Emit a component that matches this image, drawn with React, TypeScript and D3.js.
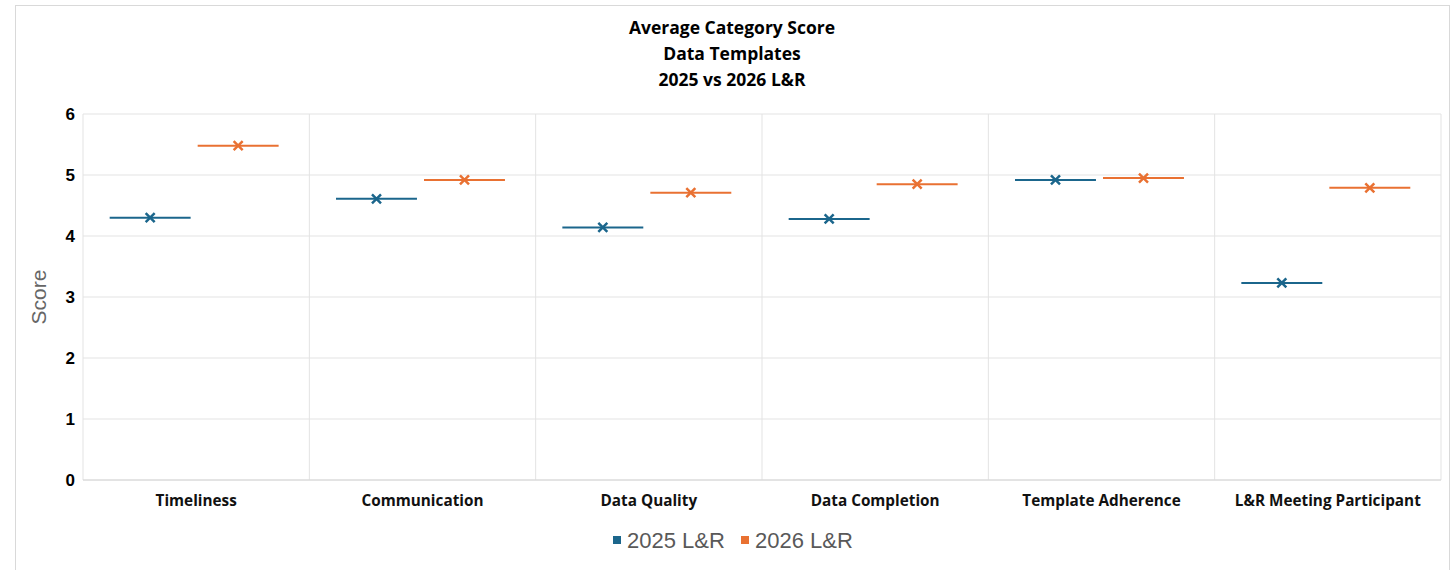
import React from "react";
import * as d3 from "d3";

const categories = [
  "Timeliness",
  "Communication",
  "Data Quality",
  "Data Completion",
  "Template Adherence",
  "L&R Meeting Participant",
];
const seriesNames = ["2025 L&R", "2026 L&R"];
const scores2025 = [4.3, 4.61, 4.14, 4.28, 4.92, 3.23];
const scores2026 = [5.48, 4.92, 4.71, 4.85, 4.95, 4.79];
const yTicks = [0, 1, 2, 3, 4, 5, 6];
const titleLines = ["Average Category Score", "Data Templates", "2025 vs 2026 L&R"];

const COLORS = ["#1b668c", "#e97132"];
const W = 1453;
const H = 570;
const margin = { left: 83, right: 12, top: 114, bottom: 90 };

const App: React.FC = () => {
  const x = d3
    .scaleBand<string>()
    .domain(categories)
    .range([margin.left, W - margin.right]);
  const inner = d3
    .scaleBand<string>()
    .domain(seriesNames)
    .range([0, x.bandwidth()])
    .paddingOuter(0.286)
    .align(0.46);
  const y = d3.scaleLinear().domain([0, 6]).range([H - margin.bottom, margin.top]);

  const series = [scores2025, scores2026];
  const segW = inner.step() * 0.92;
  const xs = 4.5;

  return (
    <div style={{ position: "absolute", left: 0, top: 0 }}>
      <svg width={W} height={H} style={{ display: "block", background: "#fff" }}>
        <rect x={15.5} y={5.5} width={1434} height={580} fill="#fff" stroke="#d9d9d9" />

        {/* title */}
        <g fontFamily="'Open Sans', sans-serif" fontWeight={700} fontSize={17.5} fill="#000" textAnchor="middle">
          {titleLines.map((t, i) => (
            <text key={t} x={732} y={34 + i * 26}>
              {t}
            </text>
          ))}
        </g>

        {/* gridlines */}
        {yTicks.map((t) => (
          <line key={t} x1={margin.left} x2={W - margin.right} y1={y(t)} y2={y(t)} stroke="#e3e3e3" />
        ))}
        {categories.concat(["__end"]).map((c, i) => {
          const xx = i < categories.length ? x(c)! : x(categories[categories.length - 1])! + x.bandwidth();
          return <line key={c} x1={xx} x2={xx} y1={y(6)} y2={y(0)} stroke="#e3e3e3" />;
        })}
        <line x1={margin.left} x2={W - margin.right} y1={y(0)} y2={y(0)} stroke="#d6d6d6" />

        {/* y ticks */}
        <g fontFamily="'Liberation Sans', Arial, sans-serif" fontWeight={700} fontSize={17} fill="#000" textAnchor="end">
          {yTicks.map((t) => (
            <text key={t} x={75} y={y(t) + 6}>
              {t}
            </text>
          ))}
        </g>
        <text
          transform={`translate(46, ${y(3)}) rotate(-90)`}
          textAnchor="middle"
          fontFamily="'Liberation Sans', Arial, sans-serif"
          fontSize={21}
          fill="#666"
        >
          Score
        </text>

        {/* category labels */}
        <g fontFamily="'Open Sans', sans-serif" fontWeight={700} fontSize={15.3} fill="#111" textAnchor="middle">
          {categories.map((c) => (
            <text key={c} x={x(c)! + x.bandwidth() / 2} y={506}>
              {c}
            </text>
          ))}
        </g>

        {/* marks */}
        {series.map((vals, si) =>
          vals.map((v, ci) => {
            const cx = x(categories[ci])! + inner(seriesNames[si])! + inner.bandwidth() / 2;
            const cy = y(v);
            return (
              <g key={`${si}-${ci}`} stroke={COLORS[si]}>
                <line x1={cx - segW / 2} x2={cx + segW / 2} y1={cy} y2={cy} strokeWidth={2} />
                <path
                  d={`M${cx - xs},${cy - xs}L${cx + xs},${cy + xs}M${cx - xs},${cy + xs}L${cx + xs},${cy - xs}`}
                  strokeWidth={2.5}
                  fill="none"
                />
              </g>
            );
          })
        )}

        {/* legend */}
        <g fontFamily="'Liberation Sans', Arial, sans-serif" fontSize={22} fill="#595959">
          {seriesNames.map((s, i) => {
            const lx = i === 0 ? 613 : 741;
            return (
              <g key={s}>
                <rect x={lx} y={536} width={8} height={8} fill={COLORS[i]} />
                <text x={lx + 14} y={548}>
                  {s}
                </text>
              </g>
            );
          })}
        </g>
      </svg>
    </div>
  );
};

export default App;
